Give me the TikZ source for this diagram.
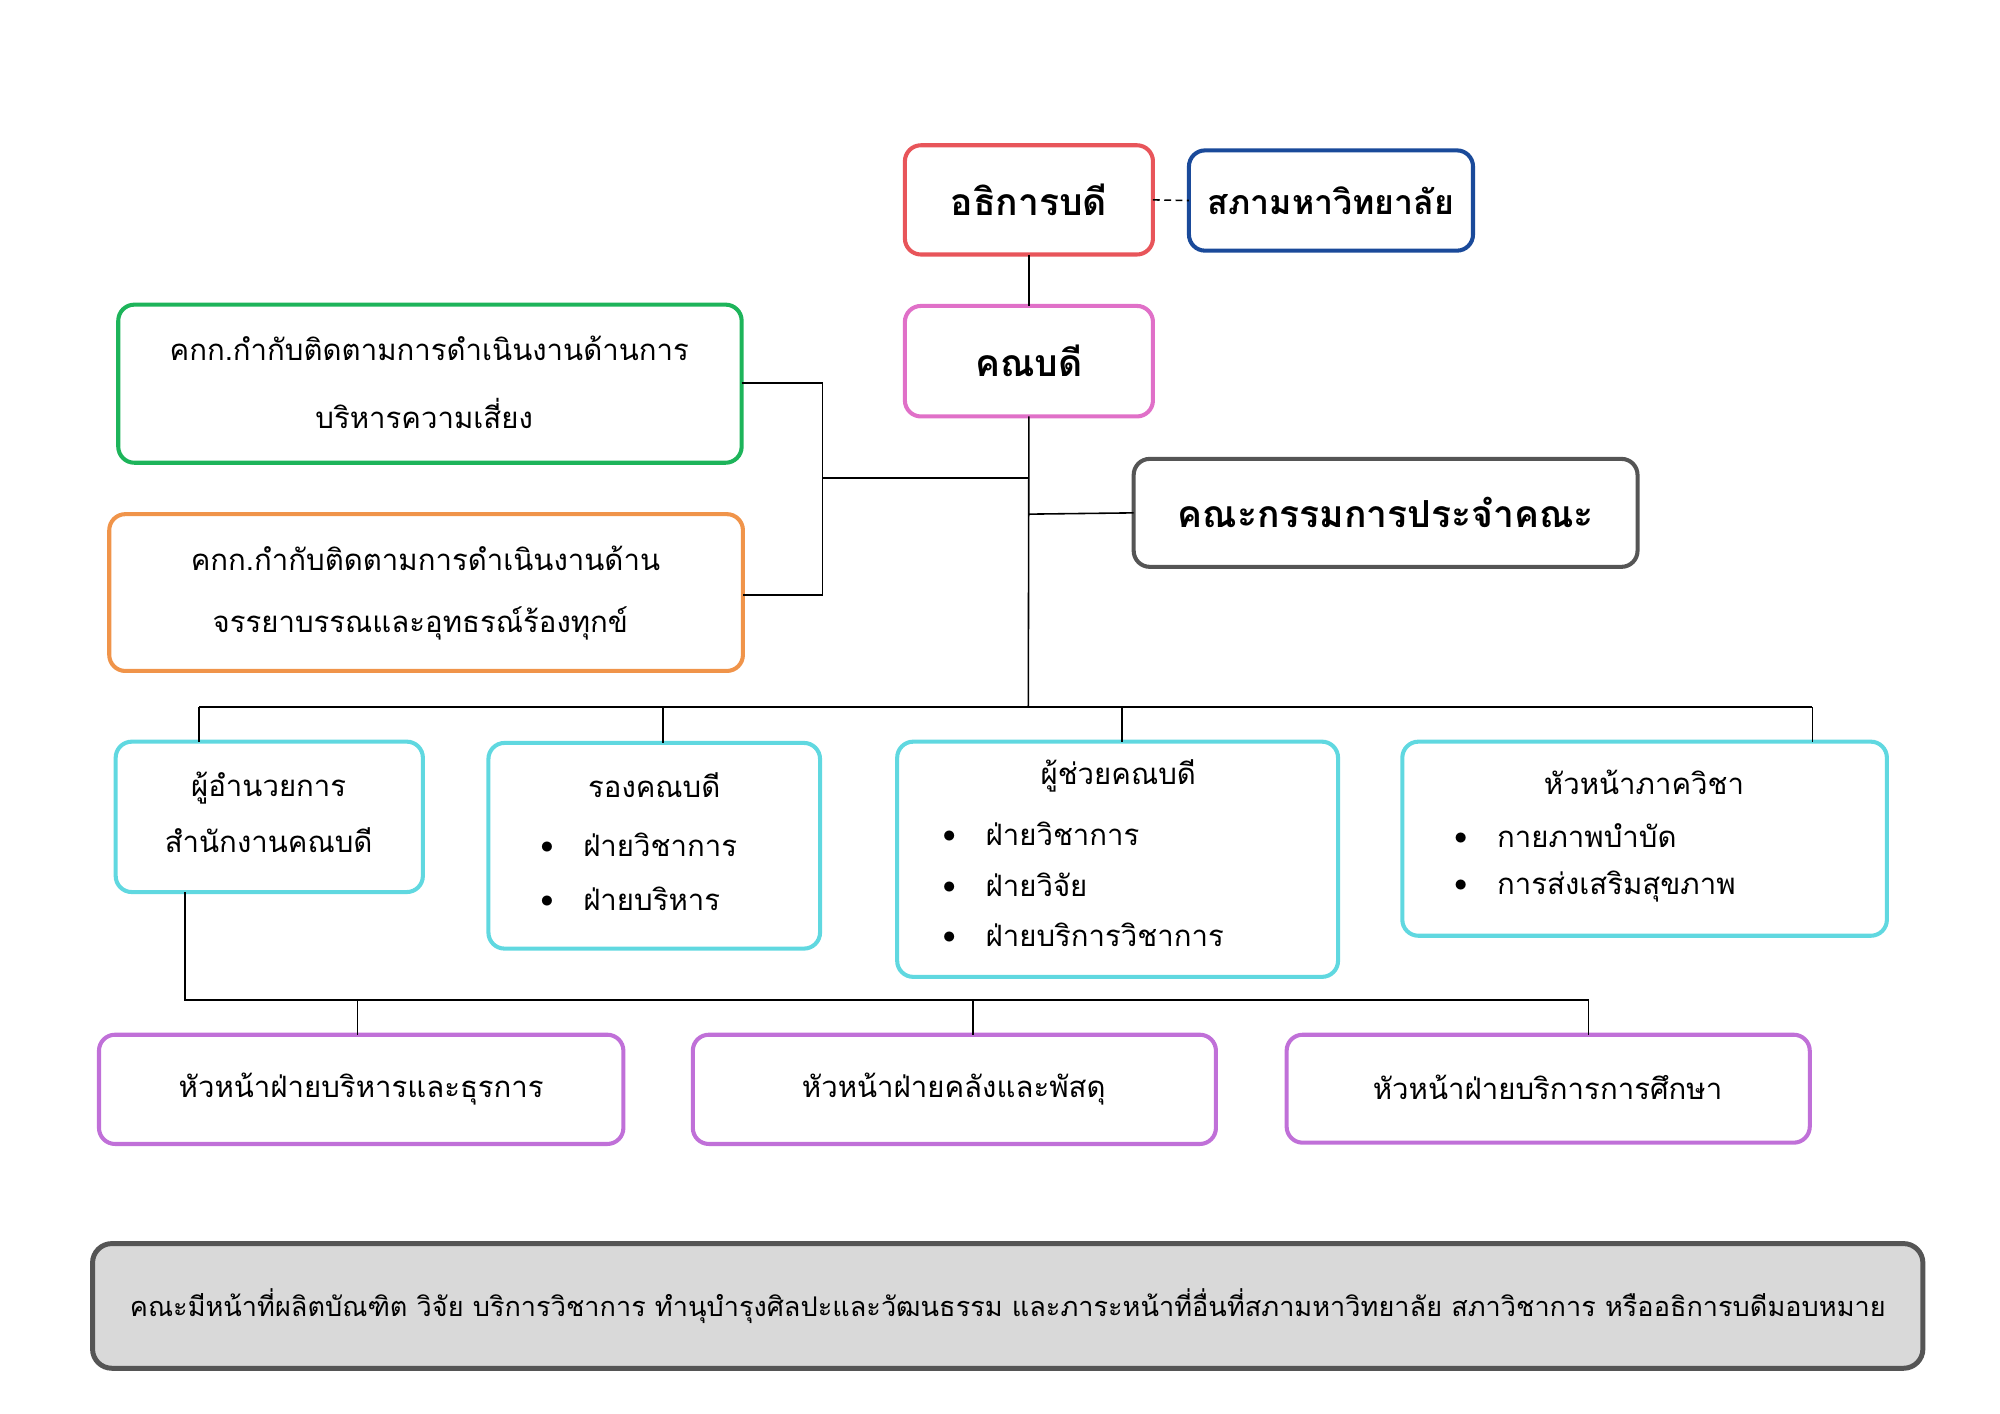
\documentclass[tikz,border=0pt]{standalone}
\usepackage{fontspec}
\newfontfamily\thai[Script=Thai]{Loma}
\definecolor{cred}{HTML}{E8555A}
\definecolor{cblue}{HTML}{1A4A9A}
\definecolor{cpink}{HTML}{E070C8}
\definecolor{cgray}{HTML}{555555}
\definecolor{cgreen}{HTML}{1DB45A}
\definecolor{corange}{HTML}{F0944A}
\definecolor{ccyan}{HTML}{60D8E0}
\definecolor{cpurp}{HTML}{C070D8}
\newcommand\bx[6]{\node[draw=#2,line width=1.8pt,rounded corners=0.25cm,inner sep=0pt,outer sep=0pt,minimum width={(#5-#3)*0.02cm},minimum height={(#6-#4)*0.02cm}] (#1) at ({(#3+#5)/2},{(#4+#6)/2}) {};}
\tikzset{t/.style={font=\thai\fontsize{13}{16}\selectfont,inner sep=0pt,anchor=west},
 tc/.style={font=\thai\fontsize{13}{16}\selectfont,inner sep=0pt},
 big/.style={font=\thai\fontsize{16.5}{20}\selectfont\bfseries,inner sep=0pt},
 ln/.style={line width=0.7pt}}
\begin{document}
\begin{tikzpicture}[x=0.02cm,y=-0.02cm]
\useasboundingbox (0,0) rectangle (1556,1100);
\bx{rector}{cred}{704}{113}{897}{198}
\bx{council}{cblue}{925}{117}{1146}{195}
\bx{dean}{cpink}{704}{238}{897}{324}
\bx{board}{cgray}{882}{357}{1274}{441}
\bx{risk}{cgreen}{92}{237}{577}{360}
\bx{ethic}{corange}{85}{400}{578}{522}
\bx{dir}{ccyan}{90}{577}{329}{694}
\bx{vice}{ccyan}{380}{578}{638}{738}
\bx{asst}{ccyan}{698}{577}{1041}{760}
\bx{head}{ccyan}{1091}{577}{1468}{728}
\bx{h1}{cpurp}{77}{805}{485}{890}
\bx{h2}{cpurp}{539}{805}{946}{890}
\bx{h3}{cpurp}{1001}{805}{1408}{889}
\node[draw=cgray,fill=black!15,line width=2.2pt,rounded corners=0.3cm,inner sep=0pt,minimum width={1424*0.02cm},minimum height={97*0.02cm}] (foot) at (784,1016) {};
% texts
\node[big] at (rector) {อธิการบดี};
\node[big,font=\thai\fontsize{15}{18}\selectfont\bfseries] at (council) {สภามหาวิทยาลัย};
\node[big] at (dean) {คณบดี};
\node[big] at (board) {คณะกรรมการประจำคณะ};
\node[tc] at (334,271) {คกก.กำกับติดตามการดำเนินงานด้านการ};
\node[tc] at (330,322) {บริหารความเสี่ยง};
\node[tc] at (331,434) {คกก.กำกับติดตามการดำเนินงานด้าน};
\node[tc] at (327,485) {จรรยาบรรณและอุทธรณ์ร้องทุกข์};
\node[tc] at (209,613) {ผู้อำนวยการ};
\node[tc] at (209,654) {สำนักงานคณบดี};
\node[tc] at (509,611) {รองคณบดี};
\node[t] at (420,657) {•\quad ฝ่ายวิชาการ};
\node[t] at (420,699) {•\quad ฝ่ายบริหาร};
\node[tc] at (870,604) {ผู้ช่วยคณบดี};
\node[t] at (733,649) {•\quad ฝ่ายวิชาการ};
\node[t] at (733,688) {•\quad ฝ่ายวิจัย};
\node[t] at (733,727) {•\quad ฝ่ายบริการวิชาการ};
\node[tc] at (1279,609) {หัวหน้าภาควิชา};
\node[t] at (1131,650) {•\quad กายภาพบำบัด};
\node[t] at (1131,690) {•\quad การส่งเสริมสุขภาพ};
\node[tc] at (281,847) {หัวหน้าฝ่ายบริหารและธุรการ};
\node[tc] at (742,847) {หัวหน้าฝ่ายคลังและพัสดุ};
\node[tc] at (1204,846) {หัวหน้าฝ่ายบริการการศึกษา};
\node[tc,font=\thai\fontsize{12}{15}\selectfont] at (foot) {คณะมีหน้าที่ผลิตบัณฑิต วิจัย บริการวิชาการ ทำนุบำรุงศิลปะและวัฒนธรรม และภาระหน้าที่อื่นที่สภามหาวิทยาลัย สภาวิชาการ หรืออธิการบดีมอบหมาย};
% connectors
\draw[ln,densely dashed] (rector.east) -- (council.west);
\draw[ln] (rector.south) -- (dean.north);
\coordinate (bus) at (800,550);
\draw[ln] (dean.south) -- (bus);
\draw[ln] (800,400) -- (board.west);
\draw[ln] (risk.east |- 0,298) -- (640,298) -- (640,463) -- (ethic.east |- 0,463);
\draw[ln] (640,372) -- (800,372);
\draw[ln] (155,550) -- (1410,550);
\draw[ln] (155,550) -- (155,577);
\draw[ln] (516,550) -- (vice.north -| 516,0);
\draw[ln] (873,550) -- (asst.north -| 873,0);
\draw[ln] (1410,550) -- (head.north -| 1410,0);
\draw[ln] (dir.south -| 144,0) -- (144,778) -- (1236,778);
\draw[ln] (278,778) -- (h1.north -| 278,0);
\draw[ln] (757,778) -- (h2.north -| 757,0);
\draw[ln] (1236,778) -- (h3.north -| 1236,0);
\end{tikzpicture}
\end{document}
